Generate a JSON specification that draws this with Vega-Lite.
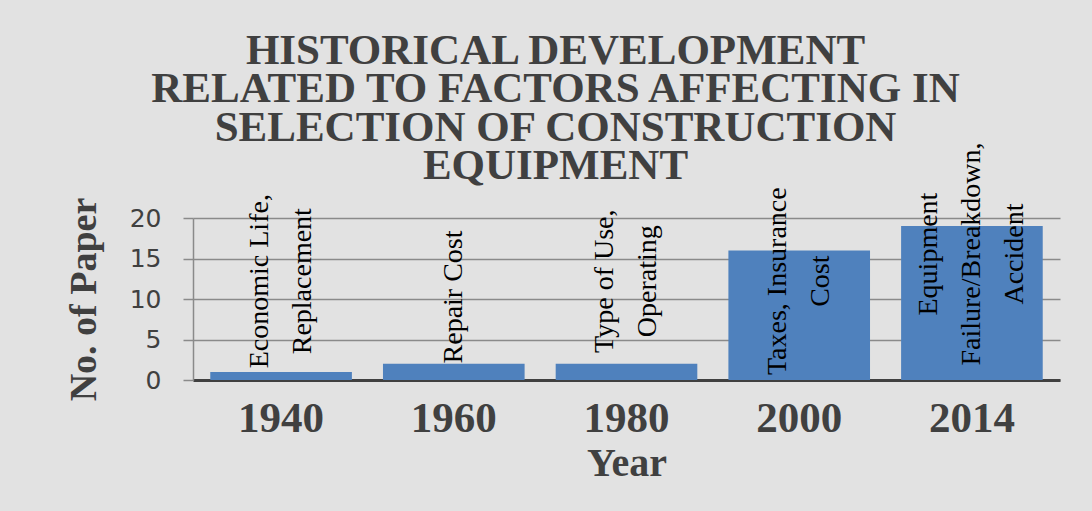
{
  "$schema": "https://vega.github.io/schema/vega-lite/v6.json",
  "width": 867,
  "height": 162,
  "autosize": {"type": "none"},
  "padding": {"left": 193, "top": 218, "right": 32, "bottom": 131},
  "background": "#e2e2e2",
  "config": {
    "view": {"stroke": null, "fill": null},
    "font": "Liberation Serif"
  },
  "title": {
    "text": ["HISTORICAL DEVELOPMENT", "RELATED TO FACTORS AFFECTING IN", "SELECTION OF CONSTRUCTION", "EQUIPMENT"],
    "font": "Liberation Serif",
    "fontSize": 43,
    "fontWeight": "bold",
    "color": "#404040",
    "lineHeight": 38.5,
    "anchor": "middle",
    "frame": "group",
    "dx": -71,
    "offset": -46
  },
  "data": {
    "values": [
      {"year": "1940", "papers": 1, "factor": ["Economic Life,", "Replacement"]},
      {"year": "1960", "papers": 2, "factor": ["Repair Cost"]},
      {"year": "1980", "papers": 2, "factor": ["Type of Use,", "Operating"]},
      {"year": "2000", "papers": 16, "factor": ["Taxes, Insurance", "Cost"]},
      {"year": "2014", "papers": 19, "factor": ["Equipment", "Failure/Breakdown,", "Accident"]}
    ]
  },
  "encoding": {
    "x": {
      "field": "year",
      "type": "nominal",
      "sort": null,
      "scale": {"paddingInner": 0.18, "paddingOuter": 0.1},
      "axis": {
        "title": "Year",
        "labelAngle": 0,
        "labelFont": "Liberation Serif",
        "labelFontWeight": "bold",
        "labelFontSize": 43,
        "labelColor": "#404040",
        "labelPadding": 17,
        "ticks": false,
        "domainColor": "#404040",
        "domainWidth": 3,
        "titleFont": "Liberation Serif",
        "titleFontWeight": "bold",
        "titleFontSize": 40,
        "titleColor": "#404040",
        "titlePadding": 3
      }
    }
  },
  "layer": [
    {
      "mark": {"type": "bar", "color": "#4f81bd"},
      "encoding": {
        "y": {
          "field": "papers",
          "type": "quantitative",
          "scale": {"domain": [0, 20], "nice": false},
          "axis": {
            "title": "No. of Paper",
            "values": [0, 5, 10, 15, 20],
            "labelFont": "DejaVu Sans",
            "labelFontSize": 25,
            "labelColor": "#404040",
            "labelPadding": 22,
            "tickSize": 10,
            "tickColor": "#8a8a8a",
            "tickWidth": 1.5,
            "gridColor": "#8a8a8a",
            "gridWidth": 1.5,
            "domainColor": "#8a8a8a",
            "domainWidth": 1.5,
            "titleFont": "Liberation Serif",
            "titleFontWeight": "bold",
            "titleFontSize": 38,
            "titleColor": "#404040",
            "titlePadding": 26
          }
        }
      }
    },
    {
      "transform": [{"filter": "length(datum.factor) == 1"}],
      "mark": {
        "type": "text",
        "angle": 270,
        "align": "center",
        "baseline": "middle",
        "font": "Liberation Serif",
        "fontSize": 28,
        "lineHeight": 43,
        "color": "#000000"
      },
      "encoding": {
        "y": {"datum": 10.25, "type": "quantitative"},
        "text": {"field": "factor"}
      }
    },
    {
      "transform": [{"filter": "length(datum.factor) == 2"}],
      "mark": {
        "type": "text",
        "angle": 270,
        "align": "center",
        "baseline": "middle",
        "dy": -21.5,
        "font": "Liberation Serif",
        "fontSize": 28,
        "lineHeight": 43,
        "color": "#000000"
      },
      "encoding": {
        "y": {"datum": 12.2, "type": "quantitative"},
        "text": {"field": "factor"}
      }
    },
    {
      "transform": [{"filter": "length(datum.factor) == 3"}],
      "mark": {
        "type": "text",
        "angle": 270,
        "align": "center",
        "baseline": "middle",
        "dy": -43,
        "font": "Liberation Serif",
        "fontSize": 28,
        "lineHeight": 43,
        "color": "#000000"
      },
      "encoding": {
        "y": {"datum": 15.55, "type": "quantitative"},
        "text": {"field": "factor"}
      }
    }
  ]
}
